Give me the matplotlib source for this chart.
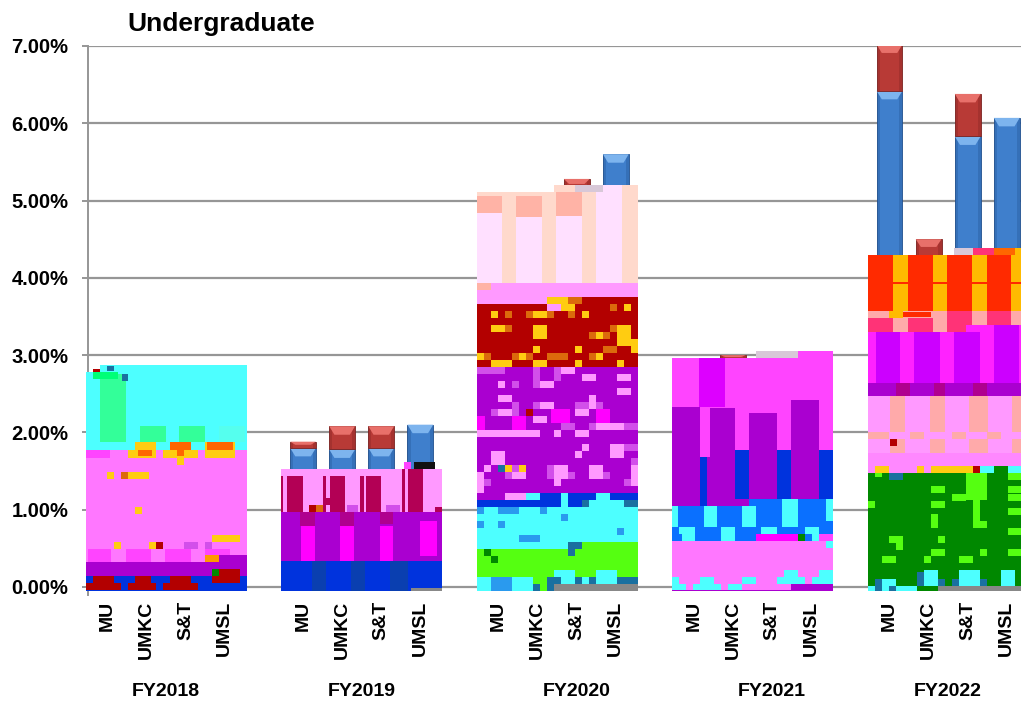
import matplotlib
matplotlib.use('Agg')
import matplotlib.pyplot as plt
from matplotlib.ticker import PercentFormatter

plt.rcParams['font.family'] = ['Liberation Sans', 'DejaVu Sans']

# values
years = ['FY2018', 'FY2019', 'FY2020', 'FY2021', 'FY2022']
year_label_slots = [1.5, 6.5, 12.0, 17.0, 21.5]
campuses = ['MU', 'UMKC', 'S&T', 'UMSL']
blue_values = [2.75, 2.05, 2.05, 2.05,
               1.80, 1.78, 1.80, 2.10,
               5.00, 5.00, 5.15, 5.60,
               2.90, 2.95, 2.95, 3.00,
               6.42, 4.30, 5.83, 6.07]
red_values = [0.05, 0.02, 0.02, 0.00,
              0.08, 0.30, 0.28, 0.00,
              0.05, 0.05, 0.13, 0.00,
              0.02, 0.05, 0.05, 0.05,
              0.60, 0.20, 0.55, 0.00]
yticks = [0, 1, 2, 3, 4, 5, 6, 7]

# corrupted blocks of the source image: colour, first col, last col, first row, last row
# one col = 7 px wide, one row = 7 px tall, row 0 sits at the foot of the axis
colours = {'cyan': '#4DFFFF', 'pink': '#FF77FF', 'purple': '#AA00D0', 'blue': '#0033DD',
           'dred': '#B30000', 'yellow': '#FFCC11', 'orange': '#FF6600', 'mag': '#FF44FF',
           'mint': '#33FF99', 'lpink': '#FF99FF', 'rose': '#B30055', 'fuchsia': '#FF00FF',
           'dmag': '#B0008F', 'navy': '#0A3FB0', 'peach': '#FFD9CC', 'pale': '#FFE0FF',
           'salmon': '#FFB3A6', 'lime': '#55FF11', 'gray': '#888888', 'violet': '#DD00FF',
           'sky': '#0A70FF', 'amber': '#FFBB00', 'red': '#FF2A00', 'hot': '#FF3377',
           'lsalmon': '#FFAAAA', 'green': '#008800', 'black': '#111111', 'vio2': '#CC00FF',
           'lmag': '#FF88FF', 'fpink': '#FF22FF', 'gold': '#FF9900', 'mint2': '#00FF77',
           'faint': '#55FFEE', 'ystripe': '#DC6A0C', 'pstripe': '#D24FEA', 'gstripe': '#1A70A0',
           'bstripe': '#2A9AEE', 'speck': '#D8C8D8'}

fy2018_cells = [
    ('cyan', 0, 23, 20.2, 31.3), ('cyan', 2, 23, 31, 32.3),
    ('mint', 2.1, 5.8, 21.3, 31), ('mint2', 1.1, 4.7, 30.3, 31.3), ('dred', 1.1, 2, 31.3, 31.7),
    ('gstripe', 3, 4, 31.4, 32.2), ('gstripe', 5.2, 6, 30, 31),
    ('mint', 7.8, 11.5, 21.3, 23.6), ('mint', 13.4, 17.1, 21.3, 23.6), ('faint', 19, 22.8, 21.3, 23.6),
    ('pink', 0, 23, 4.2, 20.2),
    ('mag', 0, 3.5, 19, 20.2), ('yellow', 6, 10, 19, 20.2), ('yellow', 7, 10, 20.2, 21.3), ('orange', 7.5, 9.5, 19.3, 20.2),
    ('yellow', 11, 16, 19, 20.2), ('orange', 12, 15, 20.2, 21.3), ('orange', 13, 14, 19.3, 20.2), ('yellow', 13, 14, 18, 19),
    ('yellow', 17, 21.3, 19, 21.3), ('orange', 17.3, 21, 20.2, 21.3),
    ('yellow', 3, 4, 16, 17), ('ystripe', 5, 6, 16, 17), ('yellow', 6, 9, 16, 17),
    ('yellow', 7, 8, 11, 12), ('yellow', 18, 22, 7, 8),
    ('yellow', 4, 5, 6, 7), ('yellow', 9, 10, 6, 7), ('dred', 10, 11, 6, 7), ('pstripe', 14, 16, 6, 7), ('pstripe', 17, 18, 6, 7),
    ('mag', 0.4, 3.7, 4.2, 6), ('mag', 5.8, 9.3, 4.2, 6), ('mag', 11.4, 15, 4.2, 6), ('mag', 17, 20.6, 4.2, 6),
    ('gold', 17, 19, 4.2, 5.2), ('purple', 19, 23, 4.2, 5.2),
    ('purple', 0, 23, 2.2, 4.2),
    ('blue', 0, 23, 0, 2.2),
    ('dred', 1, 4, 1.2, 2.2), ('dred', 7, 9.3, 1.2, 2.2), ('dred', 12, 15, 1.2, 2.2),
    ('dred', 0, 5, 0.2, 1.2), ('dred', 6, 10, 0.2, 1.2), ('dred', 11, 16, 0.2, 1.2),
    ('dred', 18, 22, 1.2, 3.2), ('green', 18, 19, 2.2, 3.2),
]

fy2019_cells = [
    ('lpink', 0, 23, 11.3, 17.4),
    ('rose', 0.9, 3.1, 11.3, 16.4), ('rose', 7, 9.1, 11.3, 16.4), ('rose', 12.2, 14.3, 11.3, 16.4),
    ('rose', 18.2, 20.3, 11.3, 17.4), ('rose', 0, 0.3, 11.3, 16.4), ('rose', 6, 6.4, 11.3, 16.4),
    ('rose', 11.3, 11.8, 11.3, 16.4), ('rose', 17.3, 17.7, 11.3, 17.4), ('rose', 22, 23, 11.3, 12),
    ('rose', 6, 7, 12.3, 13.3), ('dred', 4, 5, 11.3, 12.3), ('ystripe', 5, 6, 11.3, 12.3), ('pstripe', 9.4, 11, 11.3, 12.3),
    ('pstripe', 15, 17, 11.3, 12.3), ('black', 19, 22, 17.4, 18.4), ('mag', 17.5, 18.5, 17.4, 18.4),
    ('purple', 0, 23, 4.3, 11.3),
    ('fuchsia', 2.9, 4.8, 4.3, 9.3), ('fuchsia', 8.4, 10.4, 4.3, 9.3), ('fuchsia', 14.1, 16, 4.3, 9.3),
    ('fuchsia', 19.8, 22.3, 5, 10),
    ('dmag', 2.7, 4.9, 9.3, 11.3), ('dmag', 8.4, 10.4, 9.3, 11.3), ('dmag', 14.1, 16, 9.6, 11.3),
    ('blue', 0, 23, 0, 4.3),
    ('navy', 4.4, 6.4, 0, 4.3), ('navy', 10, 12, 0, 4.3), ('navy', 15.6, 18.2, 0, 4.3),
    ('gray', 18.5, 23, 0, 0.4),
]

fy2020_cells = [
    ('peach', 0, 23, 44, 57), ('peach', 11, 23, 57, 58),
    ('pale', 0, 3.7, 44, 54), ('pale', 5.7, 9.4, 44, 53.4), ('pale', 11.4, 15.1, 44, 53.6), ('pale', 17.1, 20.8, 44, 58),
    ('salmon', 0, 3.7, 54, 56.4), ('salmon', 5.7, 9.4, 53.4, 56.4), ('salmon', 11.4, 15.1, 53.6, 57),
    ('speck', 14, 18, 57, 58),
    ('lpink', 0, 23, 41, 44), ('salmon', 0, 2, 43, 44),
    ('dred', 0, 23, 32, 41), ('dred', 11, 23, 41, 42),
    ('yellow', 10, 13, 41, 42), ('ystripe', 13, 15, 41, 42),
    ('yellow', 2, 3, 39, 40), ('yellow', 8, 10, 39, 40), ('yellow', 15, 16, 39, 40),
    ('ystripe', 4, 5, 39, 40), ('ystripe', 7, 8, 39, 40), ('ystripe', 10, 11, 39, 40), ('ystripe', 13, 14, 39, 40),
    ('yellow', 21, 22, 40, 41), ('ystripe', 19, 20, 40, 41), ('yellow', 12, 14, 40, 41), ('lpink', 10, 12, 40, 41),
    ('yellow', 2, 4, 37, 38), ('ystripe', 4, 5, 37, 38), ('yellow', 8, 10, 36, 38), ('yellow', 20, 22, 35, 38),
    ('ystripe', 19, 20, 37, 38), ('ystripe', 16, 19, 36, 37), ('yellow', 17, 18, 36, 37),
    ('yellow', 22, 23, 34, 36), ('ystripe', 18, 20, 34, 35),
    ('yellow', 8, 9, 34, 35), ('yellow', 14, 15, 34, 35),
    ('yellow', 0, 1, 33, 34), ('ystripe', 1, 2, 33, 34), ('ystripe', 5, 8, 33, 34), ('yellow', 6, 7, 33, 34),
    ('ystripe', 10, 13, 33, 34), ('ystripe', 16, 17, 33, 34), ('yellow', 17, 18, 33, 34),
    ('yellow', 2, 5, 32, 33), ('yellow', 8, 10, 32, 33), ('yellow', 14, 15, 32, 33), ('yellow', 20, 21, 32, 33),
    ('purple', 0, 23, 14, 32),
    ('pstripe', 0, 4, 31, 32), ('pstripe', 8, 9, 31, 32), ('pstripe', 11, 12, 31, 32), ('lpink', 12, 14, 31, 32),
    ('pstripe', 8, 9, 29, 31), ('pstripe', 11, 12, 30, 31), ('pstripe', 5, 6, 29, 30),
    ('lpink', 15, 17, 30, 31), ('lpink', 20, 22, 30, 31), ('lpink', 3, 4, 29, 30), ('lpink', 9, 11, 29, 30),
    ('lpink', 3, 5, 27, 28), ('lpink', 20, 22, 28, 29), ('lpink', 16, 17, 26, 28), ('lpink', 9, 11, 26, 27),
    ('pstripe', 8, 9, 26, 27), ('pstripe', 5, 6, 25, 27), ('pstripe', 2, 3, 25, 26), ('pstripe', 14, 16, 26, 27), ('pstripe', 17, 18, 26, 27),
    ('lpink', 14, 16, 25, 26), ('lpink', 3, 5, 25, 26), ('lpink', 8, 10, 24, 25),
    ('fuchsia', 10.7, 13.3, 24, 26), ('fuchsia', 17, 19, 24, 26), ('fuchsia', 5, 7, 23, 25), ('fuchsia', 0, 1.2, 23, 25),
    ('dred', 7, 8, 25, 26), ('pstripe', 12, 14, 23, 24), ('pstripe', 16, 17, 23, 24), ('pstripe', 21, 23, 23, 24),
    ('lpink', 17, 21, 23, 24), ('lpink', 0, 9, 22, 23), ('lpink', 11, 12, 22, 23), ('lpink', 14, 16, 22, 23),
    ('lpink', 15, 16, 20, 21), ('lpink', 19, 21, 19, 21), ('lpink', 14, 15, 19, 20), ('lpink', 2, 4, 18, 20),
    ('pstripe', 21, 23, 20, 21), ('pstripe', 22, 23, 18, 19),
    ('lpink', 1, 2, 17, 18), ('lpink', 11, 13, 16, 18), ('lpink', 16, 18, 16, 18), ('lpink', 5, 7, 16, 17),
    ('gstripe', 3, 4, 17, 18), ('yellow', 4, 5, 17, 18), ('yellow', 6, 7, 17, 18), ('pstripe', 5, 6, 17, 18),
    ('pstripe', 10, 11, 16, 18), ('pstripe', 4, 5, 16, 17), ('pstripe', 13, 14, 16, 17), ('pstripe', 18, 19, 16, 17),
    ('lpink', 0, 1, 14, 17), ('lpink', 22, 23, 15, 18), ('lpink', 11, 12, 15, 16), ('pstripe', 1, 2, 15, 16), ('pstripe', 21, 22, 15, 16),
    ('cyan', 0, 23, 6, 14), ('purple', 0, 4, 13, 14),
    ('lpink', 4, 7, 13, 14), ('cyan', 7, 9, 13, 14), ('blue', 9, 12, 13, 14), ('blue', 13, 17, 13, 14), ('blue', 19, 23, 13, 14),
    ('blue', 0, 10, 12, 13), ('blue', 10, 12, 12, 13), ('blue', 13, 15, 12, 13), ('gstripe', 15, 16, 12, 13), ('gstripe', 21, 23, 12, 13),
    ('bstripe', 0, 1, 11, 12), ('bstripe', 3, 6, 11, 12), ('bstripe', 9, 10, 11, 12), ('bstripe', 12, 13, 10, 11),
    ('bstripe', 0, 1, 9, 10), ('bstripe', 3, 4, 9, 10), ('bstripe', 20, 21, 8, 9), ('bstripe', 6, 9, 7, 8),
    ('lime', 0, 23, 2, 6), ('lime', 13, 23, 6, 7), ('gstripe', 13, 15, 6, 7), ('gstripe', 13, 14, 5, 6), ('green', 1, 2, 5, 6), ('green', 2, 3, 4, 5),
    ('cyan', 0, 2, 0, 2), ('bstripe', 2, 5, 0, 2), ('cyan', 5, 8, 0, 2), ('lime', 8, 11, 0, 2), ('gstripe', 8, 9, 0, 1), ('gstripe', 10, 11, 0, 2),
    ('cyan', 11, 14, 1, 3), ('cyan', 17, 20, 1, 3), ('cyan', 14, 23, 1, 2),
    ('gstripe', 11, 12, 1, 2), ('gstripe', 14, 15, 1, 2), ('gstripe', 16, 17, 1, 2), ('gstripe', 20, 23, 1, 2),
    ('gray', 11, 23, 0, 1),
]

fy2021_cells = [
    ('mag', 0, 23, 7.2, 33.3), ('mag', 14, 23, 33.3, 34.3), ('speck', 12, 18, 33.3, 34.3),
    ('violet', 3.8, 7.5, 26.3, 33.3),
    ('purple', 0, 4, 12.2, 26.3), ('purple', 5.4, 9, 19.2, 26.2), ('purple', 5, 11, 12.2, 19.2),
    ('purple', 11, 15, 13.2, 25.4), ('purple', 17, 21, 13.2, 27.3),
    ('blue', 4, 5, 12.2, 19.2), ('blue', 9, 11, 13.2, 20.2), ('blue', 15, 17, 13.2, 20.2), ('blue', 21, 23, 13.2, 20.2),
    ('sky', 0, 23, 9.2, 12.2), ('sky', 11, 23, 12.2, 13.2),
    ('cyan', 0, 0.8, 9.2, 12.2), ('cyan', 4.5, 6.4, 9.2, 12.2), ('cyan', 10, 12, 9.2, 12.2),
    ('cyan', 15.7, 18, 9.2, 13.2), ('cyan', 22, 23, 10, 13.2),
    ('sky', 0, 23, 8.2, 9.2), ('cyan', 1, 3.3, 8.2, 9.2), ('cyan', 7, 9, 8.2, 9.2), ('cyan', 12.7, 15, 8.2, 9.2), ('cyan', 19, 21, 8.2, 9.2),
    ('sky', 0, 12, 7.2, 8.2), ('cyan', 1.4, 3.3, 7.2, 8.2), ('cyan', 7, 9, 7.2, 8.2),
    ('fuchsia', 12, 18, 7.2, 8.2), ('green', 18, 19, 7.2, 8.2), ('sky', 19, 20, 7.2, 8.2), ('cyan', 20, 21, 7.2, 8.2),
    ('pink', 0, 23, 0, 7.2), ('cyan', 22, 23, 6.2, 7.2),
    ('cyan', 0, 1, 1, 2), ('cyan', 0, 2, 0.2, 1), ('cyan', 3, 7, 0.2, 1), ('cyan', 4, 6, 1, 2),
    ('cyan', 8, 10, 0.2, 1), ('cyan', 10, 12, 1, 2), ('cyan', 15, 19, 1, 2), ('cyan', 16, 18, 2, 3),
    ('cyan', 20, 23, 1, 2), ('cyan', 21, 23, 2, 3),
    ('purple', 17, 23, 0, 1), ('purple', 0, 17, 0, 0.2),
]

fy2022_cells = [
    ('amber', 0, 23, 40, 48), ('speck', 12.4, 15, 48, 49), ('hot', 15, 18, 48, 49), ('orange', 18, 21, 48, 49), ('amber', 21, 23, 48, 49),
    ('red', 0, 3.6, 40, 48), ('red', 5.8, 9.3, 40, 48), ('red', 11.4, 14.9, 40, 48), ('red', 17, 20.5, 40, 48),
    ('red', 0, 23, 43.8, 44.2),
    ('lsalmon', 0, 23, 37, 40),
    ('hot', 0, 3.6, 37, 39), ('hot', 5.8, 9.3, 37, 39), ('hot', 11.4, 14.9, 37, 40), ('hot', 17, 20.5, 37, 40),
    ('amber', 3, 5, 39, 40), ('red', 5, 9, 39.2, 39.8),
    ('fpink', 0, 23, 29.7, 37), ('fpink', 14, 23, 37, 38),
    ('vio2', 1.2, 4.6, 29.7, 37), ('vio2', 6.7, 10.3, 29.7, 37), ('vio2', 12.4, 16, 29.7, 37), ('vio2', 18, 21.7, 29.7, 38),
    ('purple', 0, 23, 27.8, 29.7), ('dmag', 4, 6, 27.8, 29.7), ('dmag', 9.5, 11, 27.8, 29.7), ('dmag', 15, 17, 27.8, 29.7),
    ('lpink', 0, 23, 17.9, 27.8),
    ('lsalmon', 3.2, 5.4, 22.7, 27.8), ('lsalmon', 8.9, 11, 22.7, 27.8), ('lsalmon', 14.5, 17.2, 22.7, 27.8), ('lsalmon', 20.7, 23, 22.7, 27.8),
    ('lsalmon', 0, 3, 21.7, 22.7), ('lsalmon', 6, 8, 21.7, 22.7), ('lsalmon', 12, 14, 21.7, 22.7), ('lsalmon', 17, 19, 21.7, 22.7),
    ('lsalmon', 3.2, 5.4, 19.7, 21.7), ('lsalmon', 8.9, 11, 19.7, 21.7), ('lsalmon', 14.5, 17.2, 19.7, 21.7), ('lsalmon', 20.7, 23, 19.7, 21.7),
    ('lmag', 0, 23, 16.9, 19.7), ('dred', 3.2, 4.2, 20.7, 21.7),
    ('yellow', 1, 3, 16.9, 17.9), ('yellow', 7, 8, 16.9, 17.9), ('yellow', 9, 15, 16.9, 17.9), ('dred', 15, 16, 16.9, 17.9),
    ('cyan', 16, 18, 16.9, 17.9), ('green', 18, 20, 16.9, 17.9), ('cyan', 20, 23, 16.9, 17.9),
    ('green', 0, 23, 0, 16.9),
    ('gstripe', 3, 5, 15.9, 16.9), ('lime', 1, 2, 16.3, 16.9),
    ('lime', 20, 23, 15.9, 16.9), ('lime', 14, 17, 13, 16.9), ('lime', 9, 11, 14, 15), ('lime', 9, 11, 11.9, 12.9),
    ('lime', 20, 23, 14, 15), ('lime', 12, 14, 12.9, 13.9), ('lime', 20, 23, 12.9, 13.9), ('lime', 0, 1, 11.9, 12.9),
    ('lime', 15, 16, 10, 13), ('lime', 20, 23, 10.9, 11.9), ('lime', 9, 10, 9, 11), ('lime', 15, 17, 9, 10),
    ('lime', 20, 23, 8, 9), ('lime', 3, 5, 6.9, 7.9), ('lime', 4, 5, 5.9, 6.9), ('lime', 10, 11, 6.9, 7.9),
    ('lime', 9, 11, 5, 6), ('lime', 16, 17, 5, 6), ('lime', 20, 23, 5, 6), ('lime', 2, 4, 4, 5),
    ('lime', 8, 9, 4, 5), ('lime', 13, 15, 4, 5),
    ('cyan', 8, 10, 0.7, 3), ('cyan', 13, 16, 0.7, 3), ('cyan', 19, 21, 0.7, 3), ('cyan', 2, 4, 0.7, 1.7),
    ('gstripe', 1, 2, 0.7, 1.7), ('gstripe', 7, 8, 0.7, 2.7), ('gstripe', 10, 11, 0.7, 1.7), ('gstripe', 12, 13, 0.7, 1.7), ('gstripe', 16, 17, 0.7, 1.7),
    ('cyan', 0, 7, 0, 0.7), ('gstripe', 1, 2, 0, 0.7), ('gstripe', 3, 4, 0, 0.7), ('gray', 10, 23, 0, 0.7),
]

all_cells = [fy2018_cells, fy2019_cells, fy2020_cells, fy2021_cells, fy2022_cells]

slot_px = 39.1
cell_w = 7 / slot_px
cell_h = 7 / 77.3
group_offset = 22 / slot_px
bar_w = 0.66


def draw_bar(ax, x, bottom, height, main, dark, light):
    if height <= 0:
        return
    ax.bar(x, height, bar_w, bottom=bottom, color=main, edgecolor=dark, linewidth=0.6, zorder=2)
    ax.bar(x - bar_w * 0.44, height, bar_w * 0.12, bottom=bottom, color=dark, alpha=0.3, zorder=2)
    ax.bar(x + bar_w * 0.44, height, bar_w * 0.12, bottom=bottom, color=dark, alpha=0.3, zorder=2)
    cap = min(0.11, height * 0.5)
    top = bottom + height
    ax.fill([x - bar_w / 2, x + bar_w / 2, x + bar_w * 0.3, x - bar_w * 0.3],
            [top, top, top - cap, top - cap], color=light, lw=0, zorder=2)


fig = plt.figure(figsize=(10.21, 7.03), dpi=100)
ax = fig.add_axes([88 / 1021, 1 - 594.7 / 703, 1 - 88 / 1021, (594.7 - 46) / 703])

slots = []
for g in range(len(years)):
    for c in range(len(campuses)):
        slots.append(g * 5 + c)

for s, b, r in zip(slots, blue_values, red_values):
    draw_bar(ax, s, 0, b, '#3F7FCC', '#1F4E8C', '#7DB4EE')
    draw_bar(ax, s, b, r, '#B83A36', '#7A2220', '#E8706A')

for g, cells in enumerate(all_cells):
    left = g * 5 - group_offset
    for name, c0, c1, r0, r1 in cells:
        ax.bar(left + c0 * cell_w, (r1 - r0) * cell_h, (c1 - c0) * cell_w,
               bottom=-0.052 + r0 * cell_h, align='edge', color=colours[name],
               linewidth=0, zorder=3, clip_on=False)

ax.set_ylim(-0.1, 7)
ax.set_xlim(-0.5, (1021 - 107.5) / slot_px)
ax.yaxis.set_major_formatter(PercentFormatter(xmax=100, decimals=2))
ax.set_yticks(yticks)
ax.grid(axis='y', color='#969696', linewidth=1.6, zorder=1)
ax.set_axisbelow(True)
for name in ['top', 'right', 'bottom']:
    ax.spines[name].set_visible(False)
ax.spines['left'].set_color('#969696')
ax.spines['left'].set_linewidth(1.4)
ax.tick_params(axis='y', length=4, width=1.4, color='#969696', pad=10, labelsize=14.5)
for t in ax.get_yticklabels():
    t.set_fontweight('bold')

ax.set_xticks(slots)
ax.set_xticklabels(campuses * len(years), rotation=90, fontweight='bold', fontsize=14)
ax.tick_params(axis='x', length=0, pad=4)

for label, s in zip(years, year_label_slots):
    ax.annotate(label, xy=(s, 0), xycoords=('data', 'figure fraction'), xytext=(0, 8),
                textcoords='offset points', ha='center', va='center',
                fontweight='bold', fontsize=14)

fig.text(127 / 1021, 1 - 24 / 703, 'Undergraduate', fontweight='bold', fontsize=19, va='center')

fig.savefig('out.png', dpi=100)
